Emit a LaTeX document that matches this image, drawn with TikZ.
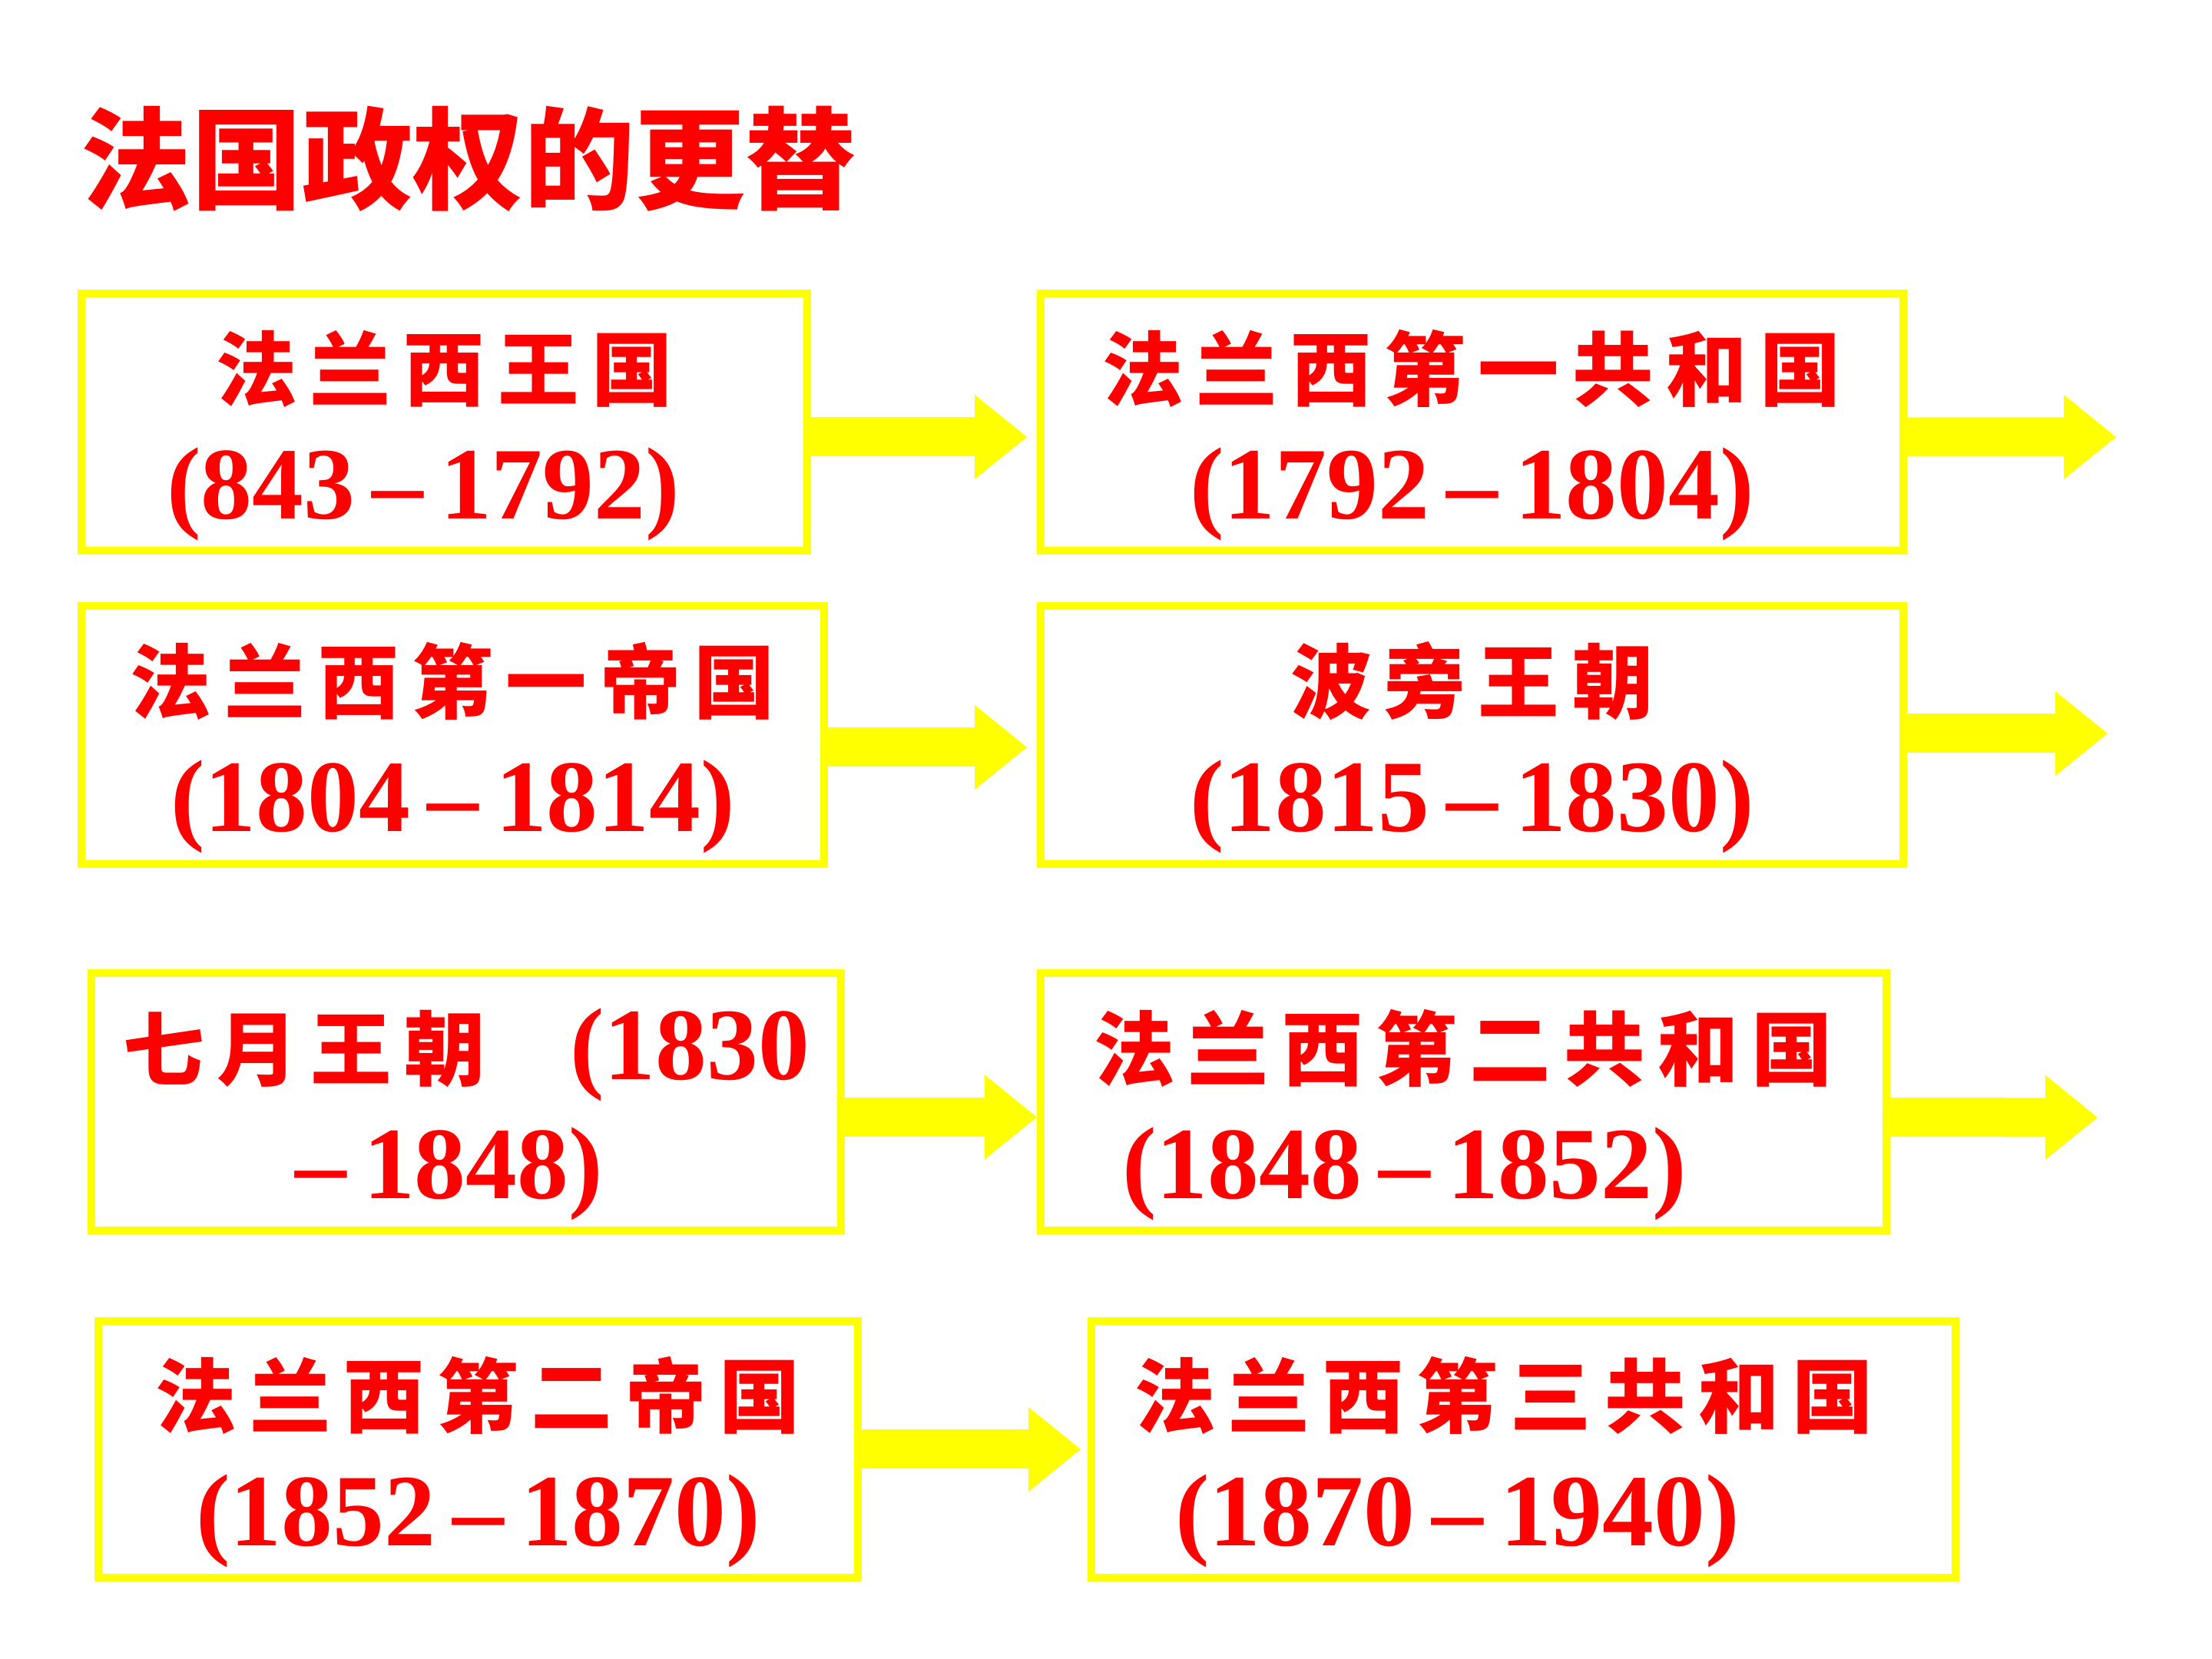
\documentclass[tikz,border=0pt]{standalone}
\usepackage{fontspec}
\setmainfont{Liberation Serif}
\newfontfamily\cjkfont{Noto Sans CJK SC}
\newfontfamily\cjkboxfont{Noto Sans CJK SC}[LetterSpace=16]
\usetikzlibrary{arrows.meta, positioning}

\definecolor{boxyellow}{RGB}{255,255,0}
\definecolor{textred}{RGB}{255,0,0}

\newcommand{\regime}[1]{\rule{0pt}{1.25cm}{\cjkboxfont\fontsize{30}{36}\selectfont #1}}

\begin{document}
\begin{tikzpicture}[
    font=\bfseries\fontsize{38}{44}\selectfont,
    title/.style={text=textred, inner sep=0pt, anchor=west, font=\cjkfont\bfseries\fontsize{41}{49}\selectfont},
    era/.style={rectangle, draw=boxyellow, line width=2.8pt, fill=white, text=textred, align=center, inner sep=0pt, outer sep=0pt, minimum height=3.35cm},
    flow/.style={draw=boxyellow, line width=0.51cm, -{Triangle[length=0.68cm, width=1.1cm, line width=0pt]}}
]
\useasboundingbox (0,0) rectangle (28.8,21.6);

% Title
\node[title] (title) at (1.05,19.53) {法国政权的更替};

% Row 1
\node[era, minimum width=9.45cm] (kingdom) at (5.785,16.105) {\regime{法兰西王国}\\(843\,–\,1792)\hspace*{0.55cm}};
\node[era, minimum width=11.23cm] (rep1) at (19.165,16.105) {\regime{法兰西第一共和国}\\(1792\,–\,1804)};

% Row 2
\node[era, minimum width=9.67cm, minimum height=3.36cm] (emp1) at (5.895,12.03) {\regime{法兰西第一帝国}\\(1804\,–\,1814)};
\node[era, minimum width=11.23cm, minimum height=3.36cm] (bourbon) at (19.165,12.03) {\regime{波旁王朝}\\(1815\,–\,1830)};

% Row 3
\node[era, minimum width=9.76cm] (july) at (6.07,7.255) {\regime{七月王朝}\hspace{1.1cm}(1830\\–\,1848)\hspace*{0.45cm}};
\node[era, minimum width=11.01cm] (rep2) at (19.055,7.255) {\regime{法兰西第二共和国}\\(1848\,–\,1852)\hspace*{1.54cm}};

% Row 4
\node[era, minimum width=9.89cm, minimum height=3.34cm] (emp2) at (6.225,2.73) {\regime{法兰西第二帝国}\\(1852\,–\,1870)};
\node[era, minimum width=11.25cm, minimum height=3.34cm] (rep3) at (19.835,2.73) {\regime{法兰西第三共和国}\hspace*{0.5cm}\\(1870\,–\,1940)\hspace*{1.72cm}};

% Free ends on the right
\coordinate (next1) at (27.55,15.91);
\coordinate (next2) at (27.44,12.05);
\coordinate (next3) at (27.31,7.05);

% Arrows
\draw[flow, shorten >=0.18cm] ([yshift=-0.195cm]kingdom.east) -- ([yshift=-0.195cm]rep1.west);
\draw[flow] ([yshift=-0.195cm]rep1.east) -- (next1);
\draw[flow, shorten >=0.18cm] ([yshift=-0.16cm]emp1.east) -- ([yshift=-0.16cm]bourbon.west);
\draw[flow] ([yshift=0.02cm]bourbon.east) -- (next2);
\draw[flow, shorten >=0.05cm] ([yshift=-0.2cm]july.east) -- ([yshift=-0.2cm]rep2.west);
\draw[flow] ([yshift=-0.2cm]rep2.east) -- (next3);
\draw[flow, shorten >=0.14cm] (emp2.east) -- (rep3.west);

\end{tikzpicture}
\end{document}
